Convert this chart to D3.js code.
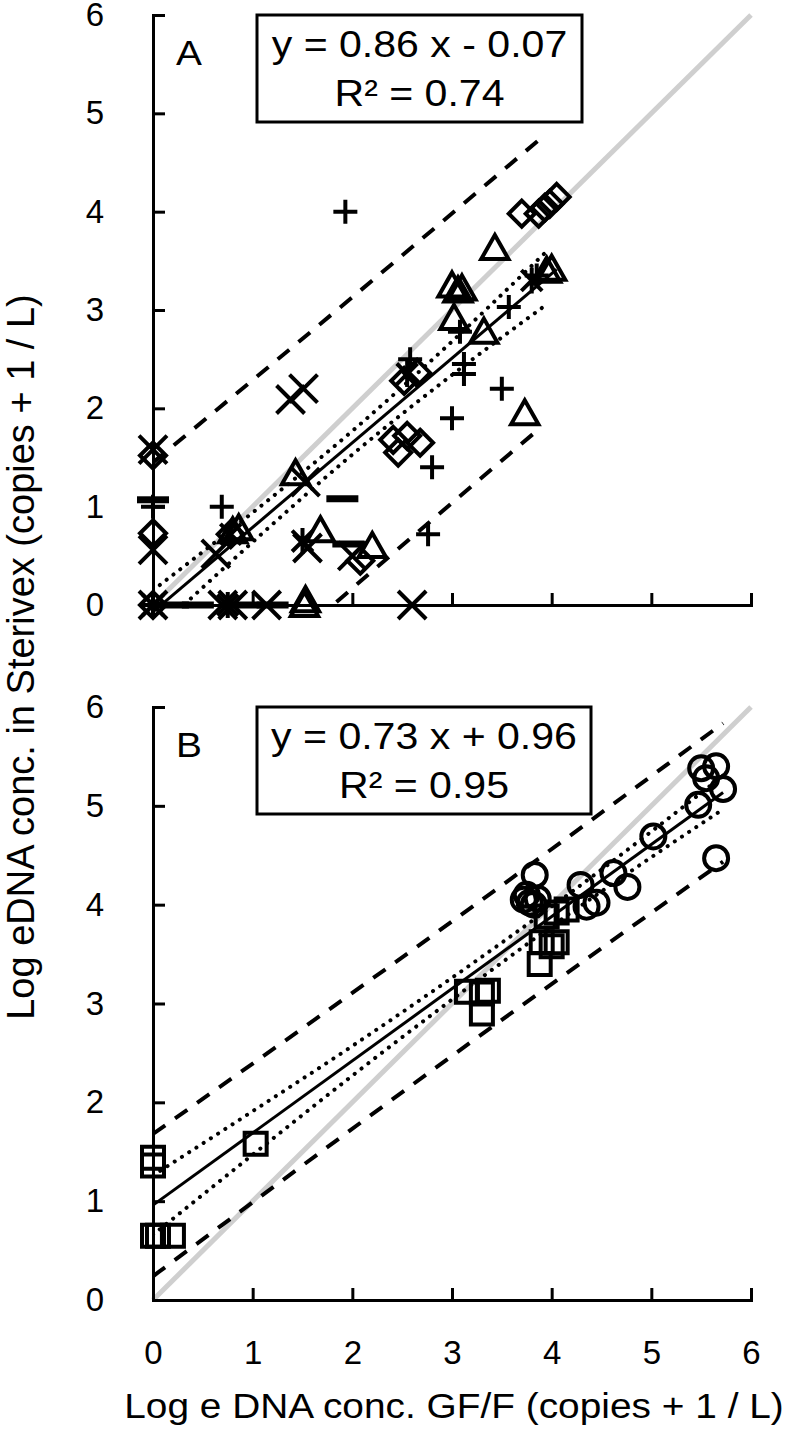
<!DOCTYPE html>
<html>
<head>
<meta charset="utf-8">
<script src="https://cdn.jsdelivr.net/npm/d3@7"></script>
<style>
  body { margin: 0; background: #fff; }
  text { font-family: "Liberation Sans", Arial, sans-serif; fill: #000; }
</style>
</head>
<body>
<svg id="chart" width="800" height="1431"></svg>
<script>
// ---- data ----
var xTicks = [0, 1, 2, 3, 4, 5, 6]
var yTicks = [0, 1, 2, 3, 4, 5, 6]

// panel A (several taxa, one marker each)
var aDiamond = [[0,0],[0,0.73],[0,1.52],[0.78,0.72],[2.08,0.45],[2.41,1.68],[2.46,1.55],[2.55,1.72],[2.68,1.65],
  [2.52,2.28],[2.65,2.36],[3.7,3.98],[3.87,3.98],[3.93,4.04],[3.98,4.08],[4.05,4.15]]
var aTriangle = [[0.8,0.75],[0.86,0.78],[1.43,1.34],[1.52,0],[1.53,0.05],[1.68,0.76],[2.2,0.6],[3.0,3.25],
  [3.06,3.2],[3.1,3.22],[3.02,2.92],[3.32,2.78],[3.43,3.63],[3.73,1.95],[3.95,3.4],[4.0,3.42]]
var aCross = [[0,0],[0,0.56],[0,1.58],[0.63,0.52],[0.7,0],[0.8,0],[1.14,0],[1.38,2.09],[1.51,2.2],
  [1.53,1.25],[1.55,0.58],[2.0,0.5],[2.6,0]]
var aPlus = [[0,0],[0,1.0],[0.69,1.0],[1.93,4.0],[2.58,2.5],[2.76,0.72],[2.8,1.4],[3.0,1.9],[3.08,2.78],
  [3.12,2.45],[3.12,2.35],[3.5,2.2],[3.57,3.03],[3.85,3.35]]
var aStar = [[0,0],[0.75,0],[0.78,0.72],[1.5,0.65],[2.55,2.35],[3.8,3.3]]
var aDash = [[0,1.07],[0.2,0],[0.45,0],[0.95,0],[1.2,0],[1.9,1.08],[1.96,0.62]]

// panel B
var bSquare = [[0,1.44],[0,1.36],[0,0.65],[0.05,0.65],[0.2,0.65],[1.03,1.58],[3.15,3.12],[3.3,3.1],[3.3,2.9],
  [3.36,3.13],[3.88,3.4],[3.9,3.62],[4.0,3.58],[4.05,3.62],[3.95,3.88],[4.05,3.92],[4.15,3.95]]
var bCircle = [[3.72,4.05],[3.78,4.02],[3.82,4.0],[3.86,4.06],[3.75,4.1],[3.83,4.3],[4.29,4.2],[4.35,3.98],
  [4.45,4.02],[4.62,4.32],[4.76,4.18],[5.02,4.69],[5.47,5.01],[5.5,5.38],[5.55,5.28],[5.65,5.4],[5.72,5.17],[5.65,4.47]]

// regression (slope, intercept), x range, and band half widths read at a few x
var aFit = [0.86, -0.07]
var aFitX = [0, 4.05]
var aConfX = [0, 1, 2, 3, 3.95]
var aConfW = [0.22, 0.15, 0.12, 0.17, 0.27]
var aPredX = [0, 2, 3.9]
var aPredW = [1.52, 1.48, 1.47]

var bFit = [0.73, 0.96]
var bFitX = [0, 5.72]
var bConfX = [0, 1, 2, 3, 4, 5, 5.72]
var bConfW = [0.3, 0.22, 0.15, 0.11, 0.1, 0.13, 0.17]
var bPredX = [0, 3, 5.72]
var bPredW = [0.72, 0.68, 0.7]

var aLabels = ["A", "y = 0.86 x - 0.07", "R\u00b2 = 0.74"]
var bLabels = ["B", "y = 0.73 x + 0.96", "R\u00b2 = 0.95"]
var xTitle = "Log e DNA conc. GF/F (copies + 1 / L)"
var yTitle = "Log eDNA conc. in Sterivex (copies + 1 / L)"

// ---- drawing ----
var svg = d3.select("#chart")
var sx = 1.11   // the figure's text is a little wide

var x = d3.scaleLinear().domain([0, 6]).range([153, 751])

function stretchText(g, str, tx, ty, size, anchor) {
  return g.append("text")
    .attr("transform", `translate(${tx},${ty}) scale(${sx},1)`)
    .attr("font-size", size)
    .attr("text-anchor", anchor || "middle")
    .text(str)
}

var markers = {
  diamond: r => `M0,${-r}L${r},0L0,${r}L${-r},0Z`,
  triangle: r => `M0,${-r}L${r*1.05},${r*0.85}L${-r*1.05},${r*0.85}Z`,
  cross: r => `M${-r},${-r}L${r},${r}M${-r},${r}L${r},${-r}`,
  plus: r => `M${-r},0L${r},0M0,${-r}L0,${r}`,
  star: r => `M${-r*0.8},${-r*0.8}L${r*0.8},${r*0.8}M${-r*0.8},${r*0.8}L${r*0.8},${-r*0.8}M0,${-r}L0,${r}`,
  dash: r => `M${-r},0L${r},0`,
  square: r => `M${-r},${-r}H${r}V${r}H${-r}Z`,
  circle: r => `M${r},0A${r},${r} 0 1 1 ${-r},0A${r},${r} 0 1 1 ${r},0Z`
}

function drawPanel(p) {
  var y = p.y
  var g = svg.append("g")

  var clipId = "clip" + p.name
  svg.append("clipPath").attr("id", clipId)
    .append("rect")
    .attr("x", x(0)).attr("y", y(6))
    .attr("width", x(6) - x(0)).attr("height", y(0) - y(6))

  var line = d3.line().x(d => x(d[0])).y(d => y(d[1]))
  var curve = d3.line().x(d => x(d[0])).y(d => y(d[1])).curve(d3.curveMonotoneX)
  var fit = v => p.fit[0] * v + p.fit[1]

  // 1:1 line
  g.append("path")
    .attr("d", line([[0, 0], [6, 6]]))
    .attr("stroke", "#cfcfcf").attr("stroke-width", 5).attr("fill", "none")

  var lines = g.append("g").attr("clip-path", `url(#${clipId})`)

  // prediction band (dashed)
  ;[1, -1].forEach(s => {
    lines.append("path")
      .attr("d", curve(p.predX.map((v, i) => [v, fit(v) + s * p.predW[i]])))
      .attr("stroke", "#000").attr("stroke-width", 4)
      .attr("stroke-dasharray", "15,12").attr("fill", "none")
  })
  // confidence band (dotted)
  ;[1, -1].forEach(s => {
    lines.append("path")
      .attr("d", curve(p.confX.map((v, i) => [v, fit(v) + s * p.confW[i]])))
      .attr("stroke", "#000").attr("stroke-width", 4)
      .attr("stroke-linecap", "round")
      .attr("stroke-dasharray", "0.1,8.5").attr("fill", "none")
  })
  // regression line
  g.append("path")
    .attr("d", line(p.fitX.map(v => [v, fit(v)])))
    .attr("stroke", "#000").attr("stroke-width", 3).attr("fill", "none")

  // markers
  p.series.forEach(s => {
    g.append("g").selectAll("path")
      .data(s.data)
      .enter().append("path")
      .attr("transform", d => `translate(${x(d[0])},${y(d[1])})`)
      .attr("d", markers[s.shape](s.r))
      .attr("fill", "none")
      .attr("stroke", "#000")
      .attr("stroke-width", s.w || 4)
  })

  // axes
  var ya = g.append("g")
    .attr("transform", `translate(${x(0)},0)`)
    .call(d3.axisLeft(y).tickValues(yTicks).tickSize(-12).tickPadding(49).tickFormat(d3.format("d")))
  var xa = g.append("g")
    .attr("transform", `translate(0,${y(0)})`)
    .call(d3.axisBottom(x).tickValues(xTicks).tickSize(-12).tickPadding(41)
      .tickFormat(p.xLabels ? d3.format("d") : ""))
  ;[ya, xa].forEach(a => {
    a.selectAll("path, line").attr("stroke", "#000").attr("stroke-width", 3)
    a.selectAll("text").attr("font-size", 33).attr("fill", "#000")
      .attr("font-family", '"Liberation Sans", Arial, sans-serif')
  })

  // label + equation box
  stretchText(g, p.labels[0], 176, p.top + 50, 35, "start")
  var bx = p.box
  g.append("rect")
    .attr("x", bx[0]).attr("y", p.top).attr("width", bx[1] - bx[0]).attr("height", 107)
    .attr("fill", "#fff").attr("stroke", "#000").attr("stroke-width", 3)
  var cx = (bx[0] + bx[1]) / 2
  stretchText(g, p.labels[1], cx, p.top + 42, 37)
  stretchText(g, p.labels[2], cx, p.top + 91, 37)
}

drawPanel({
  name: "A",
  y: d3.scaleLinear().domain([0, 6]).range([605, 15]),
  top: 15, box: [257, 582], labels: aLabels, xLabels: false,
  fit: aFit, fitX: aFitX, confX: aConfX, confW: aConfW, predX: aPredX, predW: aPredW,
  series: [
    {shape: "dash", data: aDash, r: 16, w: 7},
    {shape: "diamond", data: aDiamond, r: 13},
    {shape: "triangle", data: aTriangle, r: 13},
    {shape: "cross", data: aCross, r: 14},
    {shape: "plus", data: aPlus, r: 12},
    {shape: "star", data: aStar, r: 13}
  ]
})

drawPanel({
  name: "B",
  y: d3.scaleLinear().domain([0, 6]).range([1300, 707]),
  top: 707, box: [257, 591], labels: bLabels, xLabels: true,
  fit: bFit, fitX: bFitX, confX: bConfX, confW: bConfW, predX: bPredX, predW: bPredW,
  series: [
    {shape: "square", data: bSquare, r: 11},
    {shape: "circle", data: bCircle, r: 12}
  ]
})

// axis titles
stretchText(svg, xTitle, 454, 1418, 35)
svg.append("text")
  .attr("transform", "translate(34,657) rotate(-90)")
  .attr("font-size", 38)
  .attr("text-anchor", "middle")
  .text(yTitle)
</script>
</body>
</html>
